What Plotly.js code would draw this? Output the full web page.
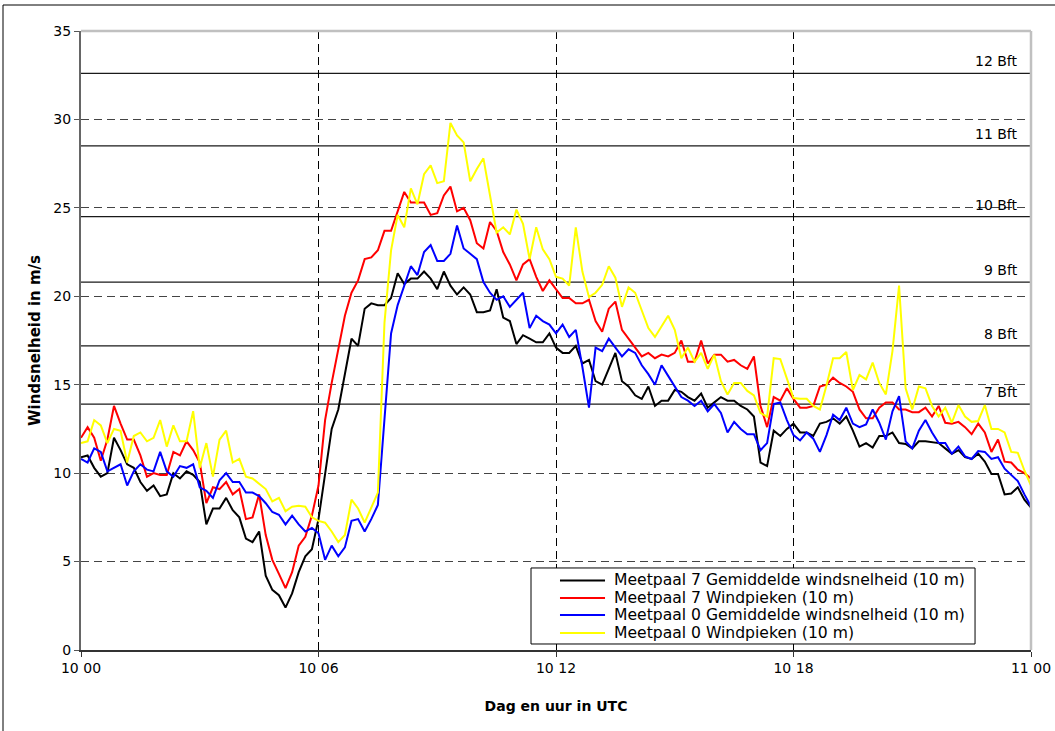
<!DOCTYPE html>
<html>
<head>
<meta charset="utf-8">
<script src="https://cdn.plot.ly/plotly-3.0.1.min.js"></script>
<style>html,body{margin:0;padding:0;background:#fff;}#chart{width:1055px;height:731px;}</style>
</head>
<body>
<div id="chart"></div>
<script>
// x tick labels (day + hour, UTC); data every 10 minutes from 10 00 to 11 00
const tickHours = [0, 6, 12, 18, 24];
const tickText = ['10 00', '10 06', '10 12', '10 18', '11 00'];

// Meetpaal 7 Gemiddelde windsnelheid (10 m)
const m7Mean = [
 10.9, 11.0, 10.3, 9.8, 10.0, 12.0, 11.3, 10.5, 10.3, 9.5,
 9.0, 9.3, 8.7, 8.8, 10.0, 9.7, 10.1, 9.9, 9.5, 7.1,
 8.0, 8.0, 8.6, 7.9, 7.5, 6.3, 6.1, 6.7, 4.2, 3.4,
 3.1, 2.4, 3.2, 4.4, 5.3, 5.7, 7.4, 10.1, 12.5, 13.6,
 15.6, 17.6, 17.2, 19.3, 19.6, 19.5, 19.5, 19.9, 21.3, 20.7,
 21.0, 21.0, 21.4, 21.0, 20.4, 21.4, 20.6, 20.1, 20.5, 20.1,
 19.1, 19.1, 19.2, 20.4, 18.8, 18.6, 17.3, 17.8, 17.6, 17.4,
 17.4, 17.9, 17.1, 16.8, 16.8, 17.2, 16.2, 16.4, 15.2, 15.0,
 15.9, 16.8, 15.2, 14.9, 14.4, 14.2, 14.9, 13.8, 14.1, 14.1,
 14.7, 14.6, 14.3, 14.1, 14.5, 13.7, 14.0, 14.3, 14.1, 14.1,
 13.8, 13.6, 13.2, 10.6, 10.4, 12.4, 12.1, 12.5, 12.8, 12.3,
 12.3, 12.1, 12.8, 12.9, 13.1, 12.8, 13.2, 12.4, 11.5, 11.7,
 11.45, 12.1, 12.1, 12.3, 11.7, 11.65, 11.4, 11.8, 11.8, 11.75,
 11.7, 11.4, 11.1, 11.3, 10.9, 10.8, 11.1, 10.65, 9.95, 9.95,
 8.8, 8.85, 9.2, 8.5, 8.05
];

// Meetpaal 7 Windpieken (10 m)
const m7Peak = [
 12.0, 12.6, 12.0, 10.7, 11.9, 13.8, 12.8, 11.9, 11.9, 11.0,
 9.8, 10.0, 9.9, 9.9, 11.2, 11.0, 11.8, 11.3, 10.6, 8.3,
 9.2, 9.1, 9.5, 8.8, 9.1, 7.4, 7.5, 8.8, 6.5, 5.1,
 4.3, 3.5, 4.4, 5.9, 6.4, 7.6, 9.3, 13.0, 15.1, 17.0,
 18.9, 20.2, 20.9, 22.1, 22.2, 22.6, 23.7, 23.7, 24.8, 25.9,
 25.3, 25.3, 25.3, 24.6, 24.7, 25.7, 26.2, 24.8, 25.0, 24.3,
 23.0, 22.7, 24.2, 23.7, 22.5, 21.8, 20.9, 21.8, 22.1, 21.1,
 20.3, 20.9, 20.4, 19.9, 19.9, 19.6, 19.6, 19.8, 18.6, 18.0,
 19.3, 19.7, 18.1, 17.6, 17.1, 16.6, 16.8, 16.5, 16.7, 16.6,
 16.8, 17.5, 16.3, 16.3, 17.5, 16.2, 16.7, 16.7, 16.3, 16.4,
 16.1, 15.9, 16.6, 13.8, 12.6, 14.3, 14.1, 14.8, 14.2, 13.7,
 13.7, 13.8, 14.9, 15.0, 15.4, 15.1, 14.9, 14.6, 13.6, 13.1,
 13.1, 13.7, 14.0, 14.0, 13.6, 13.6, 13.45, 13.45, 13.7, 13.2,
 13.8, 12.85, 12.8, 12.9, 12.6, 12.2, 12.8, 12.3, 11.2, 11.9,
 10.65, 10.6, 10.2, 10.0, 9.7
];

// Meetpaal 0 Gemiddelde windsnelheid (10 m)
const m0Mean = [
 10.8, 10.6, 11.4, 11.2, 10.1, 10.3, 10.5, 9.3, 10.1, 10.5,
 10.2, 10.1, 11.2, 10.1, 9.8, 10.4, 10.3, 10.5, 9.2, 9.0,
 8.6, 9.6, 10.0, 9.5, 9.5, 8.9, 8.9, 8.7, 8.3, 7.8,
 7.65, 7.1, 7.6, 7.1, 6.7, 6.9, 6.6, 5.1, 5.9, 5.3,
 5.8, 7.3, 7.4, 6.7, 7.4, 8.2, 13.3, 17.9, 19.5, 20.6,
 21.7, 21.2, 22.5, 22.9, 22.0, 22.0, 22.4, 24.0, 22.7, 22.4,
 22.1, 20.8, 20.2, 19.8, 20.0, 19.4, 19.8, 20.2, 18.2, 18.9,
 18.6, 18.4, 17.9, 18.4, 17.7, 18.1, 16.0, 13.7, 17.1, 16.9,
 17.6, 17.1, 16.6, 17.0, 16.8, 16.1, 15.6, 15.0, 16.1, 15.5,
 14.9, 14.3, 14.1, 13.8, 14.1, 13.5, 13.9, 13.4, 12.3, 12.9,
 12.5, 12.2, 12.2, 11.3, 11.7, 13.9, 14.0, 13.0, 12.15, 11.85,
 12.3, 11.95, 11.2, 12.15, 13.3, 13.0, 13.7, 12.8, 12.6, 12.75,
 13.6, 12.85, 11.9, 13.5, 14.35, 11.8, 11.4, 12.4, 13.0, 12.3,
 11.7, 11.7, 11.1, 11.5, 10.95, 10.8, 11.25, 11.2, 10.8, 10.9,
 10.25, 9.9, 9.55, 8.8, 8.1
];

// Meetpaal 0 Windpieken (10 m)
const m0Peak = [
 11.7, 11.8, 13.0, 12.7, 11.7, 12.5, 12.4, 10.6, 12.1, 12.3,
 11.8, 12.0, 13.0, 11.5, 12.7, 11.8, 11.8, 13.5, 10.3, 11.7,
 9.8, 11.9, 12.4, 10.6, 10.8, 9.8, 9.7, 9.4, 9.1, 8.4,
 8.6, 7.85, 8.1, 8.15, 8.1, 7.5, 7.3, 7.2, 6.7, 6.1,
 6.5, 8.5, 8.0, 7.2, 8.1, 8.9, 18.5, 22.6, 24.6, 23.9,
 26.1, 25.2, 26.9, 27.4, 26.4, 26.5, 29.8, 29.1, 28.7, 26.5,
 27.2, 27.8, 25.7, 23.6, 23.9, 23.5, 24.9, 24.1, 22.1, 23.9,
 22.65, 22.1, 21.1, 21.0, 20.6, 23.9, 21.4, 19.95, 20.2, 20.65,
 21.7, 21.05, 19.4, 20.5, 20.2, 19.2, 18.2, 17.7, 18.3, 18.9,
 18.1, 16.5, 17.1, 16.3, 16.8, 15.9, 16.7, 15.2, 14.45, 15.1,
 15.1, 14.65, 14.4, 13.4, 13.2, 16.5, 16.45, 15.3, 14.25, 14.2,
 14.2, 13.8, 13.6, 14.95, 16.5, 16.5, 16.85, 14.7, 15.55, 15.3,
 16.25, 15.1, 14.45, 16.9, 20.6, 14.8, 13.6, 14.9, 14.8, 13.8,
 13.2, 13.7, 12.85, 13.85, 13.2, 12.9, 12.95, 13.85, 12.5, 12.5,
 12.3, 11.2, 11.15, 10.15, 9.3
];

// Beaufort thresholds (m/s) and labels
const bftLevels = [13.9, 17.2, 20.8, 24.5, 28.5, 32.6];
const bftLabels = ['7 Bft', '8 Bft', '9 Bft', '10 Bft', '11 Bft', '12 Bft'];

const seriesNames = [
  'Meetpaal 7 Gemiddelde windsnelheid (10 m)',
  'Meetpaal 7 Windpieken (10 m)',
  'Meetpaal 0 Gemiddelde windsnelheid (10 m)',
  'Meetpaal 0 Windpieken (10 m)'
];
const seriesColors = ['#000000', '#ff0000', '#0000ff', '#ffff00'];
const seriesData = [m7Mean, m7Peak, m0Mean, m0Peak];

// time axis in hours since 10 00 UTC (10-minute steps)
const hours = m7Mean.map((_, i) => i / 6);

const traces = seriesData.map((vals, k) => ({
  type: 'scatter', mode: 'lines',
  x: hours, y: vals,
  name: seriesNames[k],
  line: {color: seriesColors[k], width: 2},
  showlegend: false
}));

const FONT = 'DejaVu Sans, Arial, sans-serif';

const shapes = bftLevels.map(v => ({
  type: 'line', xref: 'paper', x0: 0, x1: 1, yref: 'y', y0: v, y1: v,
  line: {color: '#1a1a1a', width: 1.2}, layer: 'below'
}));
// plot area border (top and right, light grey)
shapes.push({type: 'line', xref: 'paper', yref: 'paper', x0: 0, x1: 1, y0: 1, y1: 1,
  line: {color: '#c0c0c0', width: 2.5}, layer: 'above'});
shapes.push({type: 'line', xref: 'paper', yref: 'paper', x0: 1, x1: 1, y0: 0, y1: 1,
  line: {color: '#c0c0c0', width: 2.5}, layer: 'above'});
// outer chart frame
shapes.push({type: 'rect', xref: 'paper', yref: 'paper', x0: -0.0821, x1: 1.04, y0: -0.2, y1: 1.042,
  line: {color: '#000', width: 1}, fillcolor: 'rgba(0,0,0,0)', layer: 'above'});

const annotations = bftLevels.map((v, k) => ({
  xref: 'paper', x: 0.9884, xanchor: 'right',
  yref: 'y', y: v, yanchor: 'bottom', yshift: 2,
  text: bftLabels[k], showarrow: false,
  font: {family: FONT, size: 14, color: '#000'}
}));

// legend box (Excel style), entries built from the series names/colours
const legBox = {x0: 0.4737, x1: 0.9411, y0: 0.0097, y1: 0.1325};
const legRowY = [0.1123, 0.0840, 0.0565, 0.0275];
shapes.push({type: 'rect', xref: 'paper', yref: 'paper',
  x0: legBox.x0, x1: legBox.x1, y0: legBox.y0, y1: legBox.y1,
  line: {color: '#000', width: 1}, fillcolor: '#ffffff', layer: 'above'});
seriesNames.forEach((name, k) => {
  shapes.push({type: 'line', xref: 'paper', yref: 'paper',
    x0: 0.5042, x1: 0.5516, y0: legRowY[k], y1: legRowY[k],
    line: {color: seriesColors[k], width: 2}, layer: 'above'});
  annotations.push({xref: 'paper', yref: 'paper', x: 0.5590, y: legRowY[k],
    xanchor: 'left', yanchor: 'middle', text: name, showarrow: false,
    font: {family: FONT, size: 15.6, color: '#000'}});
});

const layout = {
  width: 1055, height: 731,
  margin: {l: 81, r: 24, t: 31, b: 81, pad: 0},
  paper_bgcolor: '#ffffff', plot_bgcolor: '#ffffff',
  font: {family: FONT, size: 14, color: '#000'},
  showlegend: false,
  xaxis: {
    range: [0, 24], tickvals: tickHours, ticktext: tickText,
    showgrid: true, gridcolor: '#000000', gridwidth: 1, griddash: '8px,5px',
    zeroline: false, showline: true, linecolor: '#333', linewidth: 1.5,
    ticks: 'outside', ticklen: 5, tickcolor: '#333', tickwidth: 1,
    tickfont: {family: FONT, size: 14, color: '#000'},
    title: {text: '<b>Dag en uur in UTC</b>', font: {family: FONT, size: 14, color: '#000'}, standoff: 26},
    fixedrange: true
  },
  yaxis: {
    range: [0, 35], tick0: 0, dtick: 5,
    showgrid: true, gridcolor: '#444444', gridwidth: 1, griddash: '8px,5px',
    zeroline: false, showline: true, linecolor: '#666', linewidth: 2,
    ticks: 'outside', ticklen: 5, tickcolor: '#555', tickwidth: 1,
    tickfont: {family: FONT, size: 14, color: '#000'},
    title: {text: '<b>Windsnelheid in m/s</b>', font: {family: FONT, size: 15, color: '#000'}, standoff: 9},
    fixedrange: true
  },
  shapes: shapes,
  annotations: annotations
};

Plotly.newPlot('chart', traces, layout, {staticPlot: true, displayModeBar: false});
</script>
</body>
</html>
